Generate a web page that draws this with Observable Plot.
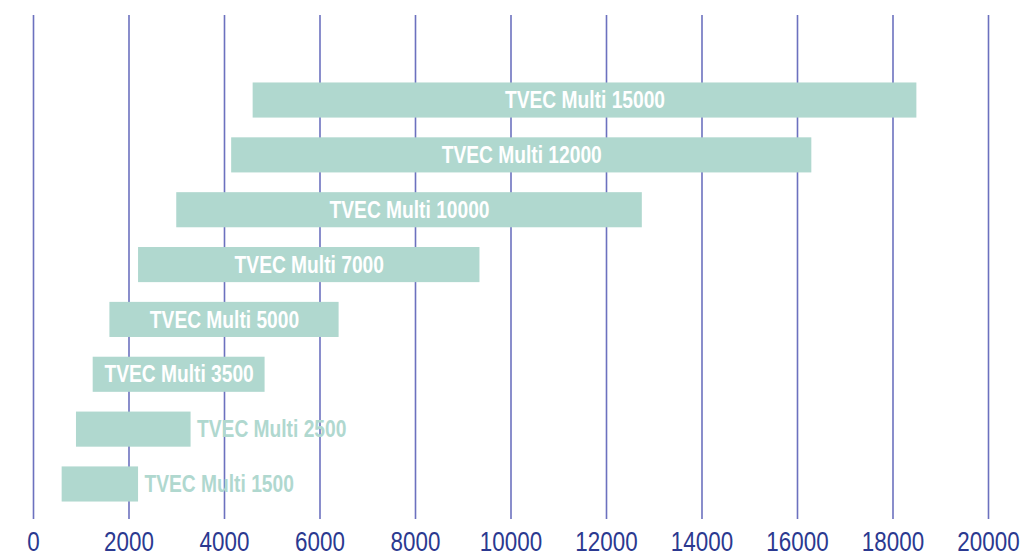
<!DOCTYPE html>
<html><head><meta charset="utf-8">
<script src="https://cdn.jsdelivr.net/npm/d3@7"></script>
<script src="https://cdn.jsdelivr.net/npm/@observablehq/plot@0.6"></script>
<style>
html,body{margin:0;padding:0;background:#fff;}
#chart svg{display:block;}
</style></head>
<body><div id="chart"></div>
<script>
const models = ["TVEC Multi 15000","TVEC Multi 12000","TVEC Multi 10000","TVEC Multi 7000","TVEC Multi 5000","TVEC Multi 3500","TVEC Multi 2500","TVEC Multi 1500"];
const rangeStart = [4600, 4150, 3000, 2200, 1600, 1250, 900, 600];
const rangeEnd = [18500, 16300, 12750, 9350, 6400, 4850, 3300, 2200];
const xTicks = [0,2000,4000,6000,8000,10000,12000,14000,16000,18000,20000];

const data = models.map((m,i)=>({model:m, x1:rangeStart[i], x2:rangeEnd[i], inside:(rangeEnd[i]-rangeStart[i])>3000}));
const font = "'Liberation Sans',Arial,sans-serif";
const teal = "#b0d8cf";

const chart = Plot.plot({
  width:1024, height:558,
  marginLeft:33, marginRight:36, marginTop:72.6, marginBottom:46.6,
  style:{fontFamily:font, background:"#fff"},
  x:{domain:[0,20000]},
  y:{domain:models, paddingInner:0.36, paddingOuter:0.18, round:false, axis:null},
  marks:[
    Plot.gridX(xTicks,{stroke:"#5c62b8", strokeOpacity:0.9, strokeWidth:1.6, insetTop:-57.6, insetBottom:-7.6}),
    Plot.barX(data,{y:"model", x1:"x1", x2:"x2", fill:teal}),
    Plot.text(data.filter(d=>d.inside),{y:"model", x:d=>(d.x1+d.x2)/2, text:"model", fill:"#fff", fontSize:24, fontWeight:"bold", textAnchor:"middle"}),
    Plot.text(data.filter(d=>!d.inside),{y:"model", x:"x2", text:"model", fill:teal, fontSize:24, fontWeight:"bold", textAnchor:"start", dx:6}),
    Plot.axisX(xTicks,{tickSize:0, tickPadding:19, fontSize:28, fill:"#2b3990", tickFormat:d=>String(d)})
  ]
});
document.getElementById("chart").appendChild(chart);
// condense glyphs horizontally (about each text's anchor) to mimic a condensed typeface
function condense(sel, k){
  d3.select(chart).selectAll(sel).each(function(){
    const b = this.getBBox();
    const anchor = getComputedStyle(this).textAnchor;
    const ax = anchor === "middle" ? b.x + b.width/2 : anchor === "end" ? b.x + b.width : b.x;
    if (!isFinite(ax)) return;
    const t = this.getAttribute("transform") || "";
    this.setAttribute("transform", `${t} translate(${ax},0) scale(${k},1) translate(${-ax},0)`);
  });
}
condense('g[aria-label="text"] text', 0.8);
condense('g[aria-label="x-axis tick label"] text', 0.8);
</script></body></html>
